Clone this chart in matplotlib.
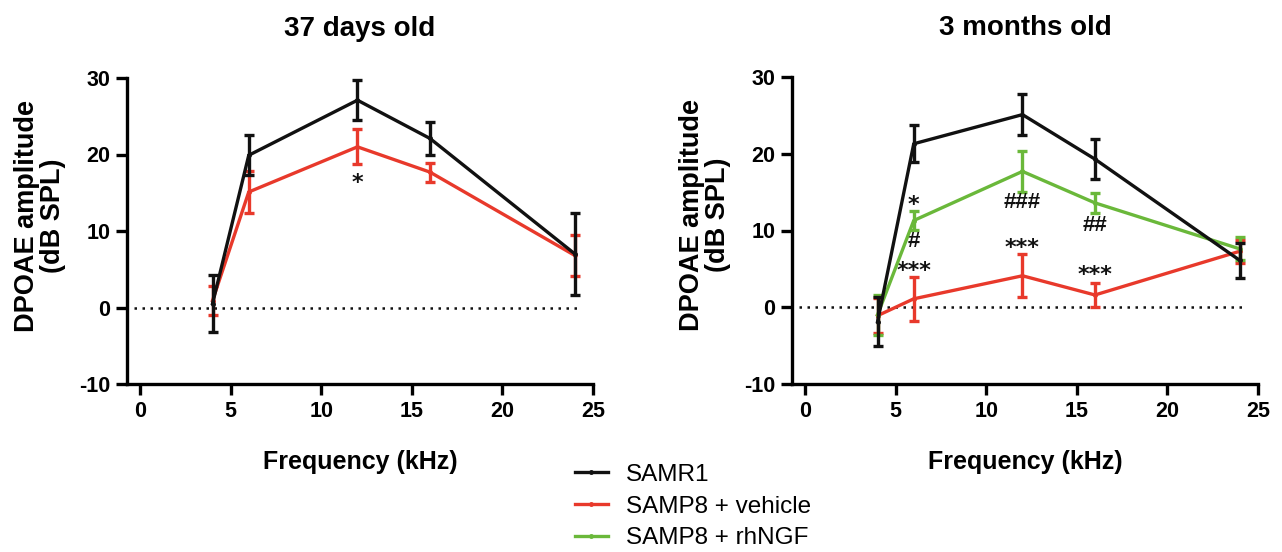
import matplotlib
matplotlib.use("Agg")
import matplotlib.pyplot as plt
import numpy as np
from matplotlib.lines import Line2D

plt.rcParams['font.family'] = ['Liberation Sans', 'DejaVu Sans']
plt.rcParams['axes.unicode_minus'] = False

freq = [4, 6, 12, 16, 24]

# 37 days old
d37_samr1 = [0.5, 19.9, 27.1, 22.1, 7.0]
d37_samr1_err = [3.7, 2.6, 2.6, 2.2, 5.4]
d37_veh = [0.9, 15.1, 21.0, 17.7, 6.8]
d37_veh_err = [1.9, 2.8, 2.3, 1.25, 2.7]

# 3 months old
m3_samr1 = [-1.9, 21.3, 25.1, 19.3, 6.1]
m3_samr1_err = [3.2, 2.4, 2.7, 2.6, 2.3]
m3_veh = [-1.1, 1.1, 4.1, 1.6, 7.3]
m3_veh_err = [2.3, 2.9, 2.8, 1.6, 1.5]
m3_ngf = [-1.0, 11.3, 17.7, 13.6, 7.6]
m3_ngf_err = [2.6, 1.2, 2.7, 1.35, 1.5]

labels = ['SAMR1', 'SAMP8 + vehicle', 'SAMP8 + rhNGF']
colors = ['#111111', '#e8392b', '#6ab83a']

# annotations: (x, y, text)
ann_37 = [(12, 17.2, '*')]
ann_3m = [(6, 14.2, '*'), (6, 8.6, '#'), (6, 5.6, '***'),
          (12, 13.6, '###'), (12, 8.6, '***'),
          (16, 10.7, '##'), (16, 5.1, '***')]

fig = plt.figure(figsize=(12.82, 5.52), dpi=100)
ax1 = fig.add_axes([127/1282, (552-384)/552, 466/1282, 306/552])
ax2 = fig.add_axes([792/1282, (552-384)/552, 466/1282, 307/552])


def style(ax, title):
    ax.set_xlim(-0.72, 25)
    ax.set_ylim(-10, 30)
    ax.set_xticks([0, 5, 10, 15, 20, 25])
    ax.set_yticks([-10, 0, 10, 20, 30])
    for s in ['top', 'right']:
        ax.spines[s].set_visible(False)
    for s in ['left', 'bottom']:
        ax.spines[s].set_linewidth(2.4)
    ax.tick_params(width=2.4, length=8, labelsize=15.5, pad=4)
    for lab in ax.get_xticklabels() + ax.get_yticklabels():
        lab.set_fontweight('bold')
    ax.axhline(0, xmin=0.015, xmax=0.97, color='#111111', lw=1.8,
               linestyle=(0, (1, 2.2)), zorder=1)
    ax.set_title(title, fontsize=20, fontweight='bold', pad=30)
    ax.set_xlabel('Frequency (kHz)', fontsize=18, fontweight='bold')
    ax.xaxis.set_label_coords(0.5, -0.215)
    ax.set_ylabel('DPOAE amplitude\n(dB SPL)', fontsize=19.5, fontweight='bold',
                  linespacing=1.0)
    ax.yaxis.set_label_coords(-0.131, 0.55)


def series(ax, y, err, c, z):
    ax.errorbar(freq, y, yerr=err, color=c, lw=2.4, elinewidth=2.4,
                capsize=3.5, capthick=2.4, marker='o', markersize=2.5, zorder=z)


series(ax1, d37_samr1, d37_samr1_err, colors[0], 4)
series(ax1, d37_veh, d37_veh_err, colors[1], 3)
series(ax2, m3_veh, m3_veh_err, colors[1], 3)
series(ax2, m3_ngf, m3_ngf_err, colors[2], 3)
series(ax2, m3_samr1, m3_samr1_err, colors[0], 4)

for ax, anns in [(ax1, ann_37), (ax2, ann_3m)]:
    for x, y, t in anns:
        if '*' in t:
            ax.text(x, y - 0.9, t, ha='center', va='center',
                    fontsize=16, fontweight='bold', color='#111111',
                    family='DejaVu Sans')
        else:
            ax.text(x, y, t, ha='center', va='center', fontsize=16,
                    fontweight='bold', color='#111111', family='Liberation Sans')

style(ax1, '37 days old')
style(ax2, '3 months old')

handles = [Line2D([0], [0], color=c, lw=2.4, marker='o', markersize=2.5) for c in colors]
fig.legend(handles, labels, loc='upper left', bbox_to_anchor=(553/1282, 1 - 442/552),
           frameon=False, fontsize=17.5, handlelength=1.35, labelspacing=0.40,
           handletextpad=0.75)

fig.savefig('out.png', dpi=100)
